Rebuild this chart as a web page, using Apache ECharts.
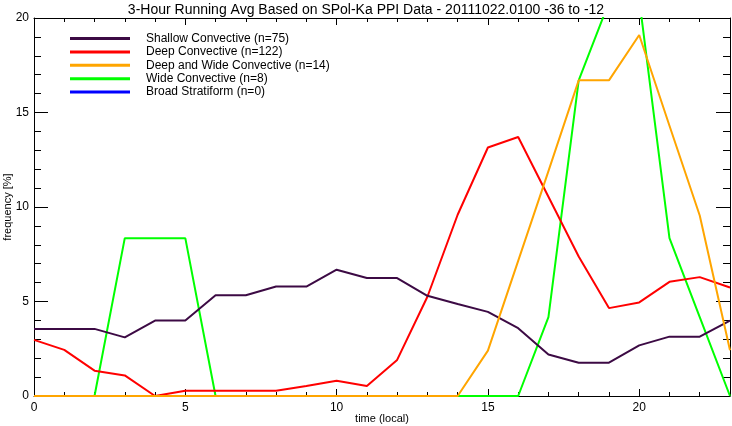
<!DOCTYPE html>
<html><head><meta charset="utf-8">
<script src="https://cdn.jsdelivr.net/npm/echarts@6/dist/echarts.min.js"></script>
<style>html,body{margin:0;padding:0;background:#fff}#c{width:732px;height:426px}</style>
</head><body><div id="c"></div>
<script>
const hours = [0,1,2,3,4,5,6,7,8,9,10,11,12,13,14,15,16,17,18,19,20,21,22,23];
const shallow = [3.55,3.55,3.55,3.1,3.99,4.0,5.33,5.33,5.79,5.79,6.68,6.24,6.24,5.3,4.87,4.45,3.59,2.2,1.76,1.76,2.68,3.14,3.14,3.99];
const deep = [2.97,2.44,1.34,1.09,0,0.28,0.28,0.28,0.28,0.53,0.81,0.53,1.91,5.25,9.59,13.15,13.7,10.54,7.38,4.65,4.95,6.04,6.29,5.74];
const deepWide = [0,0,0,0,0,0,0,0,0,0,0,0,0,0,0,2.4,7.15,11.9,16.7,16.7,19.1,14.3,9.55,2.42];
const wide = [0,0,0,8.35,8.35,8.35,0,0,0,0,0,0,0,0,0,0,0,4.17,16.7,20.83,21.0,8.35,4.17,0];
const broad = [];
const names = ['Shallow Convective (n=75)','Deep Convective (n=122)','Deep and Wide Convective (n=14)','Wide Convective (n=8)','Broad Stratiform (n=0)'];
const colors = ['#3c0a44','#ff0000','#ffa500','#00ff00','#0000ff'];
const drawOrder = [3,2,5,1,6];
const xTicks = [0,5,10,15,20];
const yTicks = [0,5,10,15,20];

const chart = echarts.init(document.getElementById('c'));
const font = 'Liberation Sans, Arial, Helvetica, sans-serif';
const pair = a => a.map((v,i)=>[hours[i], v]);
const baseAxis = {
  axisLine:{show:true, onZero:false, lineStyle:{color:'#000', width:1}},
  splitLine:{show:false},
  minorSplitLine:{show:false},
  nameMoveOverlap:false
};
chart.setOption({
  animation:false,
  title:{text:'3-Hour Running Avg Based on SPol-Ka PPI Data - 20111022.0100 -36 to -12', left:'center', top:-2,
    textStyle:{fontFamily:font, fontWeight:'normal', fontSize:14, color:'#000'}},
  grid:{left:34, right:2, top:18, bottom:30, containLabel:false, outerBoundsMode:'none'},
  legend:{orient:'vertical', left:65, top:27, itemWidth:60, itemHeight:3, itemGap:0.4, icon:'rect',
    data:names,
    textStyle:{fontFamily:font, fontSize:12, color:'#000', lineHeight:13, padding:[0,0,0,11]}},
  xAxis:[
    Object.assign({type:'value', min:0, max:23, interval:5, position:'bottom',
      name:'time (local)', nameLocation:'middle', nameGap:17,
      nameTextStyle:{fontFamily:font, fontSize:11, color:'#000'},
      axisTick:{show:true, inside:true, length:7, lineStyle:{color:'#000'}},
      minorTick:{show:true, splitNumber:5, length:4, lineStyle:{color:'#000'}},
      axisLabel:{fontFamily:font, fontSize:12, color:'#000', margin:6, showMaxLabel:false}}, baseAxis),
    Object.assign({type:'value', min:0, max:23, interval:5, position:'top',
      axisTick:{show:true, inside:true, length:7, lineStyle:{color:'#000'}},
      minorTick:{show:true, splitNumber:5, length:4, lineStyle:{color:'#000'}},
      axisLabel:{show:false}}, baseAxis)
  ],
  yAxis:[
    Object.assign({type:'value', min:0, max:20, interval:5, position:'left',
      name:'frequency [%]', nameLocation:'middle', nameGap:21, nameRotate:90,
      nameTextStyle:{fontFamily:font, fontSize:11, color:'#000'},
      axisTick:{show:true, inside:true, length:14, lineStyle:{color:'#000'}},
      minorTick:{show:true, splitNumber:5, length:7, lineStyle:{color:'#000'}},
      axisLabel:{fontFamily:font, fontSize:12, color:'#000', margin:5}}, baseAxis),
    Object.assign({type:'value', min:0, max:20, interval:5, position:'right',
      axisTick:{show:true, inside:true, length:14, lineStyle:{color:'#000'}},
      minorTick:{show:true, splitNumber:5, length:7, lineStyle:{color:'#000'}},
      axisLabel:{show:false}}, baseAxis)
  ],
  series:[shallow, deep, deepWide, wide, broad].map((d,i)=>({
    name:names[i], type:'line', data:pair(d), symbol:'none', clip:true,
    lineStyle:{color:colors[i], width:2}, itemStyle:{color:colors[i]}, z: drawOrder[i]
  }))
});
</script></body></html>
